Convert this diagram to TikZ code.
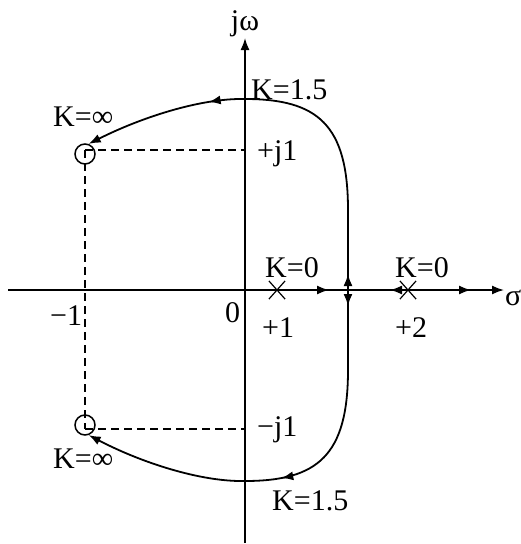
\documentclass[tikz,border=0pt]{standalone}
\usepackage{fontspec}
\setmainfont{Liberation Serif}
\usetikzlibrary{arrows.meta,decorations.markings,shapes.misc}
\begin{document}
\begin{tikzpicture}[x=1pt,y=-1pt,
  >={Latex[length=12pt,width=9pt]},
  lbl/.style={inner sep=0pt, anchor=base west, font=\fontsize{30}{32}\selectfont},
  axisline/.style={line width=1.6pt},
  locus/.style={line width=1.8pt},
  guide/.style={line width=1.5pt, dash pattern=on 8pt off 5pt},
  polemark/.style={cross out, draw, line width=1.2pt, minimum width=15pt, minimum height=17pt, inner sep=0pt},
  zeromark/.style={circle, draw, line width=1.5pt, minimum size=20pt, inner sep=0pt},
]
\useasboundingbox (0,0) rectangle (521,544);
% axes
\coordinate (axL) at (8,290);
\coordinate (axR) at (504,290);
\coordinate (axB) at (245,543);
\coordinate (axT) at (245,38);
\draw[axisline,->] (axL) -- (axR);
\draw[axisline,->] (axB) -- (axT);
% guides
\coordinate (D1) at (85,150);
\coordinate (D2) at (85,429);
\coordinate (J1) at (245,150);
\coordinate (J2) at (245,429);
\draw[guide] (D1) -- (J1);
\draw[guide] (D2) -- (J2);
\draw[guide] (D1) -- (D2);
% zeros and poles
\node[zeromark] (Z1) at (85,154) {};
\node[zeromark] (Z2) at (85,425) {};
\node[polemark] (P1) at (277,290) {};
\node[polemark] (P2) at (408,290) {};
% real-axis arrows
\coordinate (a1) at (329,290);
\coordinate (a2) at (390,290);
\coordinate (a3) at (471,290);
\draw[axisline,->] (P1.center) -- (a1);
\draw[axisline,->] (P2.center) -- (a2);
\draw[axisline,->] (P2.center) -- (a3);
% loci
\coordinate (B) at (348,290);
\coordinate (U1) at (348,210);
\coordinate (T1) at (245,99);
\coordinate (L1) at (348,370);
\coordinate (T2) at (245,481);
\draw[locus,->,
  decoration={markings,
    mark=at position 16pt with {\arrow{>}},
    mark=at position 294pt with {\arrow{>}}},
  postaction={decorate}]
  (B) -- (U1) .. controls (348,125) and (318,99) .. (T1)
  .. controls (200,98) and (140,118) .. (Z1.70);
\draw[locus,->,
  decoration={markings,
    mark=at position 16pt with {\arrow{>}},
    mark=at position 221pt with {\arrow{>}}},
  postaction={decorate}]
  (B) -- (L1) .. controls (348,455) and (318,481) .. (T2)
  .. controls (200,482) and (140,462) .. (Z2.-70);
% labels
\node[lbl, anchor=base] (ljw) at (245,30) {jω};
\node[lbl] (lk15a) at (251,99) {K=1.5};
\node[lbl] (lkinfa) at (53,126) {K=∞};
\node[lbl] (lpj1) at (257,160) {+j1};
\node[lbl] (lk0a) at (265,277) {K=0};
\node[lbl] (lk0b) at (395,277) {K=0};
\node[lbl] (lsig) at (505,305) {σ};
\node[lbl] (lzero) at (225,322) {0};
\node[lbl] (lp1) at (262,337) {+1};
\node[lbl] (lp2) at (395,337) {+2};
\node[lbl] (lm1) at (50,325) {−1};
\node[lbl] (lmj1) at (257,436) {−j1};
\node[lbl] (lkinfb) at (53,468) {K=∞};
\node[lbl] (lk15b) at (272,510) {K=1.5};
\end{tikzpicture}
\end{document}
